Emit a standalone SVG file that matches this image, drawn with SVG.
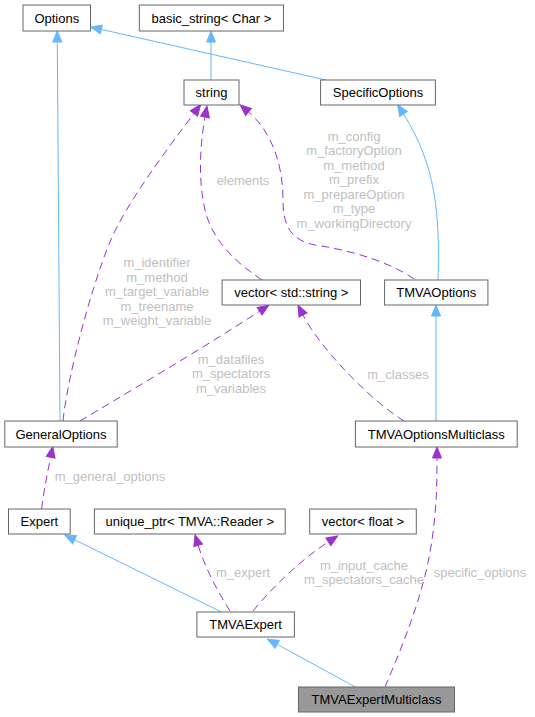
<svg xmlns="http://www.w3.org/2000/svg" width="535" height="717" viewBox="0 0 535 717">
<style>
.node rect{fill:#ffffff;stroke:#666666;stroke-width:1}
.node.cur rect{fill:#999999}
.node text{font-family:"Liberation Sans",Arial,sans-serif;font-size:13px;fill:#000000;text-anchor:middle}
.inh{fill:none;stroke:#63b8ff;stroke-width:1}
.use{fill:none;stroke:#9a32cd;stroke-width:1;stroke-dasharray:8,5}
.lbl{font-family:"Liberation Sans",Arial,sans-serif;font-size:13px;fill:#c0c0c0;text-anchor:middle}
</style>
<defs>
<marker id="ab" markerUnits="userSpaceOnUse" markerWidth="11" markerHeight="9" refX="0" refY="4.5" orient="auto" overflow="visible">
<path d="M0,0 L11,4.5 L0,9 z" fill="#63b8ff" stroke="#63b8ff" stroke-width="1"/>
</marker>
<marker id="ap" markerUnits="userSpaceOnUse" markerWidth="11" markerHeight="9" refX="0" refY="4.5" orient="auto" overflow="visible">
<path d="M0,0 L11,4.5 L0,9 z" fill="#9a32cd" stroke="#9a32cd" stroke-width="1"/>
</marker>
</defs>
<g id="edges">
<path class="inh" d="M60,421 L57.3,42" marker-end="url(#ab)"/>
<path class="inh" d="M211,80 L211,42" marker-end="url(#ab)"/>
<path class="inh" d="M326,80 L101.3,29.4" marker-end="url(#ab)"/>
<path class="inh" d="M438,280 C440,215 436,165 403.5,114" marker-end="url(#ab)"/>
<path class="inh" d="M436,421 L436,316" marker-end="url(#ab)"/>
<path class="inh" d="M221.5,612 L74.6,539.8" marker-end="url(#ab)"/>
<path class="inh" d="M355.4,687 L277.1,644.3" marker-end="url(#ab)"/>
<path class="use" d="M63,421 C67,380 90,290 110,242 C125,205 168,148 194,113.4" marker-end="url(#ap)"/>
<path class="use" d="M262,280 C235,262 212,240 205,210 C198,180 200,145 205,117" marker-end="url(#ap)"/>
<path class="use" d="M414,279 C390,262 350,250 315,245 C290,240 283,225 283,200 C283,165 272,132 248.5,112" marker-end="url(#ap)"/>
<path class="use" d="M80,421 C120,397 200,350 259.6,311.2" marker-end="url(#ap)"/>
<path class="use" d="M404,421 C370,400 320,348 303,315" marker-end="url(#ap)"/>
<path class="use" d="M41.6,509 C44,490 47,475 50.6,457.3" marker-end="url(#ap)"/>
<path class="use" d="M230,611 C218,592 205,568 198.2,545.2" marker-end="url(#ap)"/>
<path class="use" d="M253,611 C270,590 300,560 328.4,541.9" marker-end="url(#ap)"/>
<path class="use" d="M385,687 C405,640 425,590 432,540 C437,505 437,480 437,458" marker-end="url(#ap)"/>
<text class="lbl" x="157" y="267">m_identifier</text>
<text class="lbl" x="157" y="281.5">m_method</text>
<text class="lbl" x="157" y="296">m_target_variable</text>
<text class="lbl" x="157" y="310.5">m_treename</text>
<text class="lbl" x="157" y="325">m_weight_variable</text>
<text class="lbl" x="243" y="184.5">elements</text>
<text class="lbl" x="354" y="140.5">m_config</text>
<text class="lbl" x="354" y="155">m_factoryOption</text>
<text class="lbl" x="354" y="169.5">m_method</text>
<text class="lbl" x="354" y="184">m_prefix</text>
<text class="lbl" x="354" y="198.5">m_prepareOption</text>
<text class="lbl" x="354" y="213">m_type</text>
<text class="lbl" x="354" y="227.5">m_workingDirectory</text>
<text class="lbl" x="231" y="363.5">m_datafiles</text>
<text class="lbl" x="231" y="378">m_spectators</text>
<text class="lbl" x="231" y="392.5">m_variables</text>
<text class="lbl" x="398" y="378.5">m_classes</text>
<text class="lbl" x="110" y="480.5">m_general_options</text>
<text class="lbl" x="243" y="577">m_expert</text>
<text class="lbl" x="364" y="569.5">m_input_cache</text>
<text class="lbl" x="364" y="584">m_spectators_cache</text>
<text class="lbl" x="480" y="577">specific_options</text>
</g>
<g id="Options" class="node"><rect x="23" y="5" width="67.5" height="26"/><text x="56.8" y="22.5">Options</text></g>
<g id="basic_string" class="node"><rect x="139.3" y="5" width="144.2" height="26"/><text x="211.4" y="22.5">basic_string&lt; Char &gt;</text></g>
<g id="string" class="node"><rect x="184" y="80" width="55" height="25"/><text x="211.5" y="97">string</text></g>
<g id="SpecificOptions" class="node"><rect x="320.6" y="80" width="114.8" height="25"/><text x="378" y="97">SpecificOptions</text></g>
<g id="vector_string" class="node"><rect x="222.1" y="280" width="138.4" height="25"/><text x="291.3" y="297">vector&lt; std::string &gt;</text></g>
<g id="TMVAOptions" class="node"><rect x="384.6" y="280" width="103.3" height="25"/><text x="436.2" y="297">TMVAOptions</text></g>
<g id="GeneralOptions" class="node"><rect x="4.8" y="421" width="112.4" height="26"/><text x="61" y="438.5">GeneralOptions</text></g>
<g id="TMVAOptionsMulticlass" class="node"><rect x="355.4" y="421" width="161.8" height="26"/><text x="436.3" y="438.5">TMVAOptionsMulticlass</text></g>
<g id="Expert" class="node"><rect x="8.5" y="509" width="61.7" height="25"/><text x="39.3" y="526">Expert</text></g>
<g id="unique_ptr" class="node"><rect x="94.4" y="509" width="190.8" height="25"/><text x="189.8" y="526">unique_ptr&lt; TMVA::Reader &gt;</text></g>
<g id="vector_float" class="node"><rect x="309.7" y="509" width="106.6" height="25"/><text x="363" y="526">vector&lt; float &gt;</text></g>
<g id="TMVAExpert" class="node"><rect x="196.9" y="612" width="97.5" height="25"/><text x="245.6" y="629">TMVAExpert</text></g>
<g id="TMVAExpertMulticlass" class="node cur"><rect x="298.5" y="687" width="156" height="25"/><text x="376.5" y="704">TMVAExpertMulticlass</text></g>
</svg>
